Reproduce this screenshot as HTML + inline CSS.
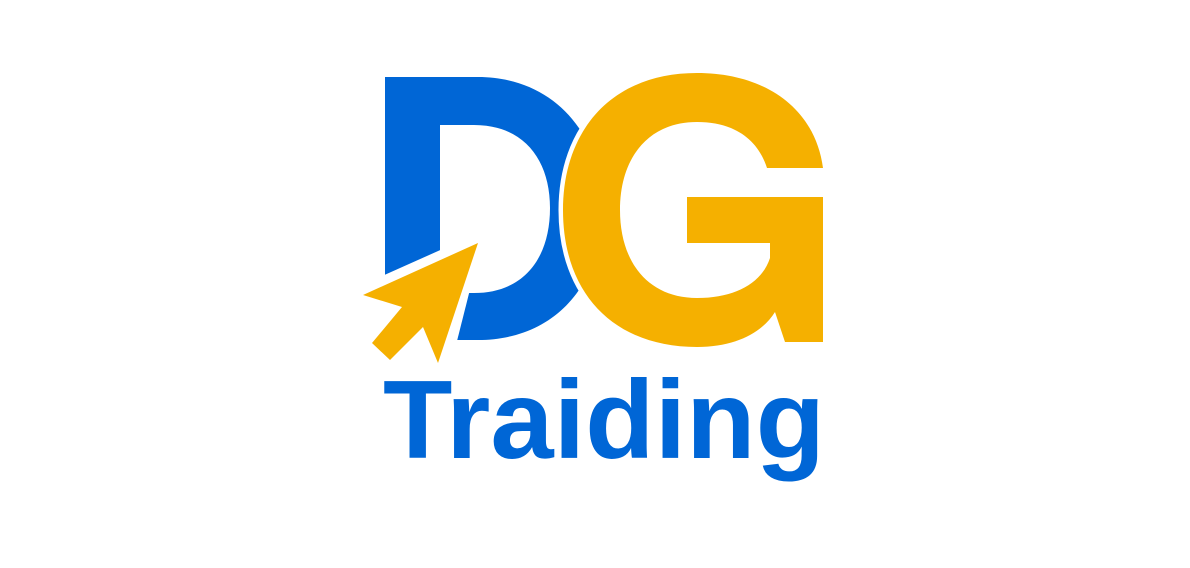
<!DOCTYPE html>
<html>
<head>
<meta charset="utf-8">
<style>
  html,body{margin:0;padding:0;background:#fff;}
  svg{display:block;}
</style>
</head>
<body>
<svg width="1190" height="568" viewBox="0 0 1190 568">
  <rect x="0" y="0" width="1190" height="568" fill="#ffffff"/>
  <path fill="#0066d6" fill-rule="evenodd"
    d="M385 77 L478 77 C552 77 602 132 602 208 C602 288 552 340 478 340 L385 340 Z
       M440 125 L474 125 C524 125 550 160 550 208 C550 258 524 293 474 293 L440 293 Z"/>
  <path fill="#f5b000" stroke="#ffffff" stroke-width="9"
    paint-order="stroke" stroke-linejoin="round" fill-rule="evenodd"
    d="M823 168 C815 108 765 73 697 73 C612 73 563 130 563 210 C563 295 615 347 697 347
       C735 347 762 333 775 312 L785 342 L823 342 L823 197 L687 197 L687 243 L770 243 L770 258
       C762 283 735 298 697 298 C648 298 620 262 620 210 C620 158 648 122 697 122
       C735 122 758 140 767 168 Z"/>
  <polygon
    points="380,277 485,230 456,345 380,345" fill="#ffffff"/>
  <polygon
    points="478,243 363,295 402,307 372,343 390,360 423,327 438,363"
    fill="#f5b000" stroke="#ffffff" stroke-width="9" stroke-linejoin="miter" paint-order="stroke"/>
  <text x="383" y="458"
    font-family="'Liberation Sans', sans-serif" font-weight="bold" font-size="111"
    fill="#0066d6" textLength="442" lengthAdjust="spacingAndGlyphs">Traiding</text>
</svg>
</body>
</html>
